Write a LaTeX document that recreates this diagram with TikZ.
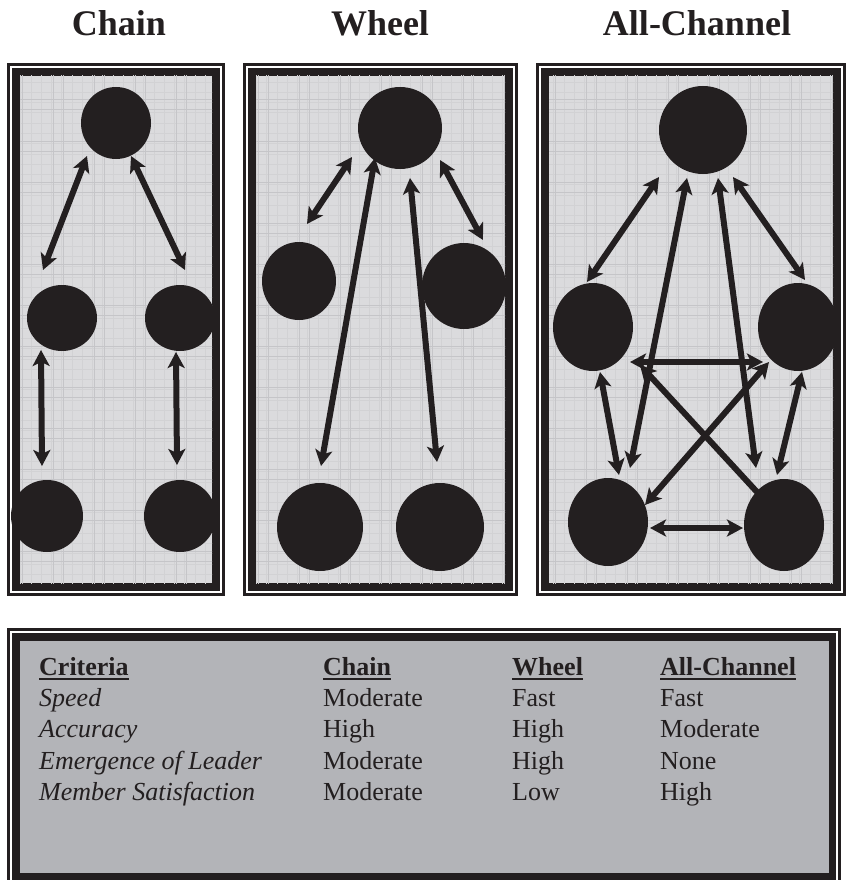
\documentclass[tikz,border=0pt]{standalone}
\usepackage{fontspec}
\setmainfont{Liberation Serif}
\usetikzlibrary{shapes.geometric,arrows.meta,calc}
\definecolor{ink}{HTML}{231F20}
\definecolor{panel}{HTML}{DBDBDD}
\definecolor{gridA}{HTML}{C5C5C8}
\definecolor{gridB}{HTML}{D2D2D4}
\definecolor{tablegrey}{HTML}{B3B4B8}
\newcommand\myul[1]{\setbox0\hbox{#1}\rlap{\rule[-4.5pt]{\wd0}{2pt}}\box0}
\newcommand\dblframe[4]{%
  \fill[ink] (#1,#2) rectangle (#3,#4);
  \fill[white] (#1+3,#2+3) rectangle (#3-3,#4-3);
  \fill[ink] (#1+5,#2+5) rectangle (#3-5,#4-5);
}
\newcommand\gridpanel[4]{%
  \begin{scope}
    \clip (#1,#2) rectangle (#3,#4);
    \fill[panel] (#1,#2) rectangle (#3,#4);
    \foreach \g in {0,10.25,...,850} {
      \draw[gridB, line width=0.5pt] (\g,0) -- (\g,880);
      \draw[gridB, line width=0.5pt] (0,\g) -- (850,\g);
    }
    \foreach \g in {12,53,...,850} {
      \draw[gridA, line width=1pt] (\g,0) -- (\g,880);
      \draw[gridA, line width=1pt] (\g+10,0) -- (\g+10,880);
    }
    \foreach \g in {18,59,...,850} {
      \draw[gridA, line width=1pt] (0,\g) -- (850,\g);
      \draw[gridA, line width=1pt] (0,\g+10) -- (850,\g+10);
    }
  \end{scope}
}
\tikzset{
  blob/.style={ellipse, fill=ink, draw=none, inner sep=0pt, outer sep=0pt},
  arr/.style={ink, line width=6pt, {Stealth[length=16pt,width=17pt,inset=4pt]}-{Stealth[length=16pt,width=17pt,inset=4pt]}},
  arrone/.style={ink, line width=6pt, -{Stealth[length=16pt,width=17pt,inset=4pt]}},
  title/.style={font=\fontsize{36}{40}\selectfont\bfseries, text=ink, anchor=base, inner sep=0pt},
  cell/.style={font=\fontsize{26}{32}\selectfont, text=ink, anchor=base west, inner sep=0pt}
}
\begin{document}
\begin{tikzpicture}[x=1pt,y=-1pt]
\useasboundingbox (0,0) rectangle (847,880);
\fill[white] (0,0) rectangle (847,880);

% titles
\node[title] (t1) at (119,36) {Chain};
\node[title] (t2) at (380,36) {Wheel};
\node[title] (t3) at (697,36) {All-Channel};

% frames
\dblframe{7}{63}{225}{596}
\gridpanel{20}{76}{212}{583}
\dblframe{243}{63}{518}{596}
\gridpanel{256}{76}{505}{583}
\dblframe{536}{63}{846}{596}
\gridpanel{549}{76}{833}{583}

% Chain
\node[blob, minimum width=70, minimum height=72] (ct) at (116,123) {};
\node[blob, minimum width=70, minimum height=66] (cml) at (62,318) {};
\node[blob, minimum width=70, minimum height=66] (cmr) at (180,318) {};
\node[blob, minimum width=72, minimum height=72] (cbl) at (47,516) {};
\node[blob, minimum width=72, minimum height=72] (cbr) at (180,516) {};
\draw[arr] ($(ct)+(-29,33)$) -- ($(cml)+(-19,-48)$);
\draw[arr] ($(ct)+(15,33)$) -- ($(cmr)+(5,-48)$);
\draw[arr] ($(cml)+(-21,32)$) -- ($(cbl)+(-5,-50)$);
\draw[arr] ($(cmr)+(-4,34)$) -- ($(cbr)+(-3,-51)$);

% Wheel
\node[blob, minimum width=84, minimum height=82] (wt) at (400,128) {};
\node[blob, minimum width=74, minimum height=78] (wml) at (299,281) {};
\node[blob, minimum width=84, minimum height=86] (wmr) at (464,286) {};
\node[blob, minimum width=86, minimum height=88] (wbl) at (320,527) {};
\node[blob, minimum width=88, minimum height=88] (wbr) at (440,527) {};
\draw[arr] ($(wt)+(-48,29)$) -- ($(wml)+(8,-57)$);
\draw[arr] ($(wt)+(40,32)$) -- ($(wmr)+(19,-46)$);
\draw[arr] ($(wt)+(-25,30)$) -- ($(wbl)+(1,-61)$);
\draw[arr] ($(wt)+(10,50)$) -- ($(wbr)+(-3,-65)$);

% All-Channel
\node[blob, minimum width=88, minimum height=88] (at) at (703,130) {};
\node[blob, minimum width=80, minimum height=88] (aml) at (593,327) {};
\node[blob, minimum width=80, minimum height=88] (amr) at (798,327) {};
\node[blob, minimum width=80, minimum height=88] (abl) at (608,522) {};
\node[blob, minimum width=80, minimum height=92] (abr) at (784,525) {};
\draw[arr] ($(at)+(-44,47)$) -- ($(aml)+(-6,-45)$);
\draw[arr] ($(at)+(30,47)$) -- ($(amr)+(7,-47)$);
\draw[arr] ($(at)+(-16,48)$) -- ($(abl)+(22,-54)$);
\draw[arr] ($(at)+(15,48)$) -- ($(abr)+(-28,-57)$);
\draw[arr] ($(aml)+(37,35)$) -- ($(amr)+(-35,35)$);
\draw[arr] ($(aml)+(7,45)$) -- ($(abl)+(11,-47)$);
\draw[arr] ($(amr)+(4,45)$) -- ($(abr)+(-7,-50)$);
\draw[arr] ($(abl)+(37,-17)$) -- ($(amr)+(-29,35)$);
\draw[arrone] ($(abr)+(-27,-33)$) -- ($(aml)+(47,38)$);
\draw[arr] ($(abl)+(42,6)$) -- ($(abr)+(-41,3)$);

% table
\fill[ink] (7,628) rectangle (841,886);
\fill[white] (10,631) rectangle (838,883);
\fill[ink] (12,633) rectangle (836,881);
\fill[tablegrey] (20,641) rectangle (829,873);

\node[cell] (h0) at (39,675) {\myul{\bfseries Criteria}};
\node[cell] (h1) at (323,675) {\myul{\bfseries Chain}};
\node[cell] (h2) at (512,675) {\myul{\bfseries Wheel}};
\node[cell] (h3) at (660,675) {\myul{\bfseries All-Channel}};

\node[cell] (r10) at (39,706) {\itshape Speed};
\node[cell] (r11) at (323,706) {Moderate};
\node[cell] (r12) at (512,706) {Fast};
\node[cell] (r13) at (660,706) {Fast};

\node[cell] (r20) at (39,737) {\itshape Accuracy};
\node[cell] (r21) at (323,737) {High};
\node[cell] (r22) at (512,737) {High};
\node[cell] (r23) at (660,737) {Moderate};

\node[cell] (r30) at (39,769) {\itshape Emergence of Leader};
\node[cell] (r31) at (323,769) {Moderate};
\node[cell] (r32) at (512,769) {High};
\node[cell] (r33) at (660,769) {None};

\node[cell] (r40) at (39,800) {\itshape Member Satisfaction};
\node[cell] (r41) at (323,800) {Moderate};
\node[cell] (r42) at (512,800) {Low};
\node[cell] (r43) at (660,800) {High};
\end{tikzpicture}
\end{document}
